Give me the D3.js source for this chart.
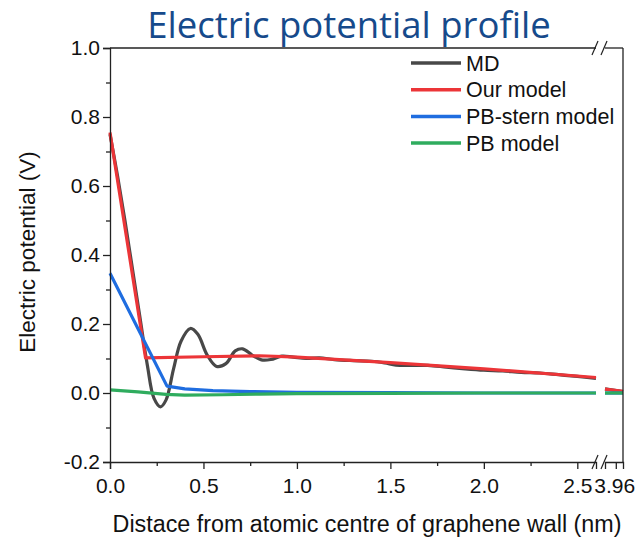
<!DOCTYPE html>
<html>
<head>
<meta charset="utf-8">
<script src="https://cdn.jsdelivr.net/npm/d3@7"></script>
<style>
  body { margin: 0; background: #fff; }
  svg text { font-family: "Liberation Sans", Arial, sans-serif; fill: #111; }
  .axis path, .axis line { stroke: #222; stroke-width: 1.3; }
</style>
</head>
<body>
<div id="plot-container"></div>
<script>
// data: [distance (nm), potential (V)]
const mdData = [[0, 0.75], [0.04, 0.63], [0.08, 0.50], [0.12, 0.36], [0.16, 0.22], [0.2, 0.08],
    [0.235, -0.015], [0.27, -0.04], [0.3, -0.02], [0.34, 0.07], [0.38, 0.15], [0.43, 0.187],
    [0.47, 0.17], [0.52, 0.11], [0.57, 0.077], [0.62, 0.085], [0.67, 0.122], [0.71, 0.128],
    [0.76, 0.11], [0.81, 0.096], [0.86, 0.097], [0.92, 0.107], [0.98, 0.104], [1.05, 0.1],
    [1.12, 0.102], [1.2, 0.097], [1.3, 0.094], [1.4, 0.092], [1.47, 0.087], [1.53, 0.081],
    [1.6, 0.08], [1.7, 0.08], [1.8, 0.075], [1.9, 0.07], [2.0, 0.066], [2.1, 0.064],
    [2.2, 0.06], [2.3, 0.058], [2.4, 0.053], [2.5, 0.048], [2.6, 0.042]];
const mdTail = [[3.9, 0.012], [4.0, 0.004]];

const ourData = [[0, 0.755], [0.19, 0.102], [0.5, 0.105], [0.8, 0.108], [1.0, 0.104],
    [1.5, 0.088], [2.0, 0.07], [2.6, 0.045]];
const ourTail = [[3.9, 0.011], [4.0, 0.005]];

const sternData = [[0, 0.347], [0.305, 0.02], [0.4, 0.012], [0.55, 0.007], [0.75, 0.004],
    [1.0, 0.002], [1.5, 0.001], [2.0, 0], [2.6, 0]];
const sternTail = [[3.9, 0], [4.0, 0]];

const pbData = [[0, 0.009], [0.15, 0.003], [0.3, -0.004], [0.4, -0.006], [0.6, -0.005],
    [0.8, -0.003], [1.0, -0.002], [1.5, -0.001], [2.0, 0], [2.6, 0]];
const pbTail = [[3.9, 0], [4.0, 0]];

const seriesNames = ["MD", "Our model", "PB-stern model", "PB model"];
const seriesColors = ["#484848", "#ec3538", "#1f6de0", "#2fac5e"];

const xTicks = [0, 0.5, 1.0, 1.5, 2.0, 2.5];
const xMinor = [0.25, 0.75, 1.25, 1.75, 2.25];
const xTicksRight = [3.96];
const yTicks = [-0.2, 0, 0.2, 0.4, 0.6, 0.8, 1.0];
const yMinor = [-0.1, 0.1, 0.3, 0.5, 0.7, 0.9];

const W = 641, H = 539;
const plotLeft = 110, plotRight = 623, plotTop = 48, plotBottom = 462;
const breakL = 596, breakR = 605;

// plain hyphen for negatives, like the original
const fmt1 = v => d3.format(".1f")(v).replace("\u2212", "-");

const svg = d3.select("#plot-container").append("svg")
    .attr("width", W).attr("height", H);

// broken x axis: two linear pieces
const x1 = d3.scaleLinear().domain([0, 2.6]).range([plotLeft, breakL]);
const x2 = d3.scaleLinear().domain([3.9, 4.0]).range([breakR, plotRight]);
const y = d3.scaleLinear().domain([-0.2, 1.0]).range([plotBottom, plotTop]);

svg.append("text")
    .attr("x", 349).attr("y", 38)
    .attr("text-anchor", "middle")
    .style("font-family", "'Open Sans', sans-serif")
    .style("font-size", "36.5px")
    .style("fill", "#164a8b")
    .text("Electric potential profile");

// series
const lineA = d3.line().x(d => x1(d[0])).y(d => y(d[1]));
const lineB = d3.line().x(d => x2(d[0])).y(d => y(d[1]));
const mainSets = [mdData, ourData, sternData, pbData];
const tailSets = [mdTail, ourTail, sternTail, pbTail];

mainSets.forEach((data, i) => {
    svg.append("path")
        .attr("d", (i === 0 ? lineA.curve(d3.curveCatmullRom) : lineA.curve(d3.curveLinear))(data))
        .attr("fill", "none")
        .attr("stroke", seriesColors[i])
        .attr("stroke-width", 3.2)
        .attr("stroke-linejoin", "round");
    svg.append("path")
        .attr("d", lineB(tailSets[i]))
        .attr("fill", "none")
        .attr("stroke", seriesColors[i])
        .attr("stroke-width", 3.2);
});

// axes
svg.append("g").attr("class", "axis")
    .attr("transform", `translate(0,${plotBottom})`)
    .call(d3.axisBottom(x1).tickValues(xTicks).tickFormat(fmt1).tickSizeOuter(0).tickSize(7).tickPadding(9))
    .call(g => g.selectAll("text").style("font-size", "21px"));
svg.append("g").attr("class", "axis")
    .attr("transform", `translate(0,${plotBottom})`)
    .call(d3.axisBottom(x1).tickValues(xMinor).tickFormat("").tickSizeOuter(0).tickSize(4))
    .call(g => g.select(".domain").remove());
svg.append("g").attr("class", "axis")
    .attr("transform", `translate(0,${plotBottom})`)
    .call(d3.axisBottom(x2).tickValues(xTicksRight).tickFormat(d3.format(".2f")).tickSizeOuter(0).tickSize(7).tickPadding(9))
    .call(g => g.selectAll("text").style("font-size", "21px").attr("text-anchor", "start").attr("x", -22));

svg.append("g").attr("class", "axis")
    .attr("transform", `translate(${plotLeft},0)`)
    .call(d3.axisLeft(y).tickValues(yTicks).tickFormat(fmt1).tickSizeOuter(0).tickSize(7).tickPadding(3))
    .call(g => g.selectAll("text").style("font-size", "21px"));
svg.append("g").attr("class", "axis")
    .attr("transform", `translate(${plotLeft},0)`)
    .call(d3.axisLeft(y).tickValues(yMinor).tickFormat("").tickSizeOuter(0).tickSize(4))
    .call(g => g.select(".domain").remove());

// frame: top and right
svg.append("line").attr("x1", plotLeft).attr("x2", breakL).attr("y1", plotTop).attr("y2", plotTop)
    .attr("stroke", "#222").attr("stroke-width", 1.3);
svg.append("line").attr("x1", breakR).attr("x2", plotRight).attr("y1", plotTop).attr("y2", plotTop)
    .attr("stroke", "#222").attr("stroke-width", 1.3);
svg.append("line").attr("x1", plotRight).attr("x2", plotRight).attr("y1", plotTop).attr("y2", plotBottom)
    .attr("stroke", "#222").attr("stroke-width", 1.3);

// break marks
[plotTop, plotBottom].forEach(yy => {
    [breakL - 1, breakR - 1].forEach(xx => {
        svg.append("line")
            .attr("x1", xx - 3).attr("y1", yy + 7)
            .attr("x2", xx + 3).attr("y2", yy - 7)
            .attr("stroke", "#222").attr("stroke-width", 1.2);
    });
});

// axis titles
svg.append("text")
    .attr("text-anchor", "middle")
    .attr("transform", "translate(35,252) rotate(-90)")
    .style("font-size", "22.5px")
    .text("Electric potential (V)");

svg.append("text")
    .attr("text-anchor", "middle")
    .attr("x", 367).attr("y", 532)
    .style("font-size", "23.3px")
    .text("Distace from atomic centre of graphene wall (nm)");

// legend
const legend = svg.selectAll(".legend")
    .data(seriesNames)
    .enter()
    .append("g")
    .attr("class", "legend")
    .attr("transform", (d, i) => `translate(411,${63 + i * 26.7})`);
legend.append("line")
    .attr("x1", 0).attr("x2", 50)
    .attr("stroke", (d, i) => seriesColors[i])
    .attr("stroke-width", 3.5);
legend.append("text")
    .attr("x", 55).attr("dy", "0.36em")
    .style("font-size", "21.5px")
    .text(d => d);
</script>
</body>
</html>
